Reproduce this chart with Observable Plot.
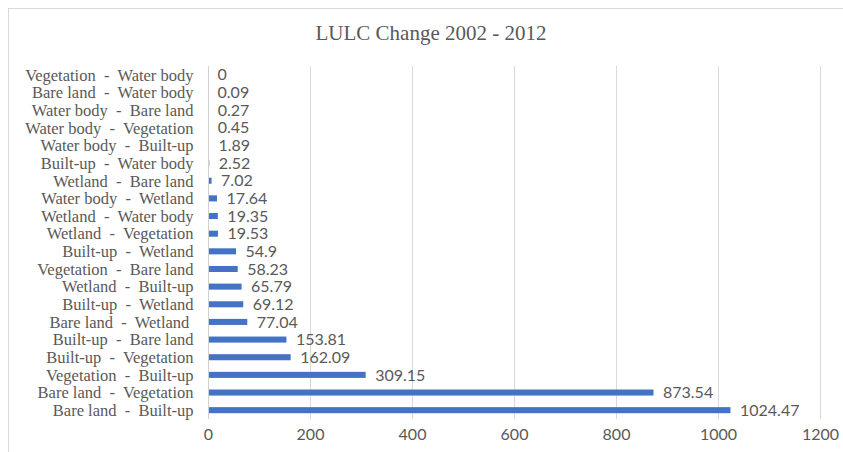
<!DOCTYPE html>
<html>
<head>
<meta charset="utf-8">
<script src="https://cdn.jsdelivr.net/npm/d3@7"></script>
<script src="https://cdn.jsdelivr.net/npm/@observablehq/plot@0.6"></script>
<style>
  html, body { margin: 0; padding: 0; background: #fff; }
  #wrap { position: relative; width: 843px; height: 452px; overflow: hidden; }
  #frame { position: absolute; left: 8px; top: 8px; width: 900px; height: 500px; border-left: 1px solid #d9d9d9; border-top: 1px solid #d9d9d9; box-sizing: border-box; }
  #title { position: absolute; top: 21px; left: 231px; width: 400px; text-align: center; font-family: "Liberation Serif", "Times New Roman", serif; font-size: 21px; color: #595959; }
  #chart { position: absolute; left: 0; top: 0; }
  #chart svg text { white-space: pre; }
</style>
</head>
<body>
<div id="wrap">
  <div id="frame"></div>
  <div id="title">LULC Change 2002 - 2012</div>
  <div id="chart"></div>
</div>
<script>
const categories = [
  "Vegetation  -  Water body",
  "Bare land  -  Water body",
  "Water body  -  Bare land",
  "Water body  -  Vegetation",
  "Water body  -  Built-up",
  "Built-up  -  Water body",
  "Wetland  -  Bare land",
  "Water body  -  Wetland",
  "Wetland  -  Water body",
  "Wetland  -  Vegetation",
  "Built-up  -  Wetland",
  "Vegetation  -  Bare land",
  "Wetland  -  Built-up",
  "Built-up  -  Wetland",
  "Bare land  -  Wetland ",
  "Built-up  -  Bare land",
  "Built-up  -  Vegetation",
  "Vegetation  -  Built-up",
  "Bare land  -  Vegetation",
  "Bare land  -  Built-up"
];
const values = [0, 0.09, 0.27, 0.45, 1.89, 2.52, 7.02, 17.64, 19.35, 19.53, 54.9, 58.23, 65.79, 69.12, 77.04, 153.81, 162.09, 309.15, 873.54, 1024.47];
const xTicks = [0, 200, 400, 600, 800, 1000, 1200];

const rows = categories.map((c, i) => ({i, label: c, value: values[i]}));

const sans = "Lato, 'Open Sans', sans-serif";
const serif = "'Liberation Serif', 'Times New Roman', serif";

const chart = Plot.plot({
  width: 843,
  height: 452,
  marginLeft: 208,
  marginRight: 23,
  marginTop: 66,
  marginBottom: 33,
  style: {background: "transparent", color: "#595959"},
  x: {domain: [0, 1200], ticks: xTicks, label: null},
  y: {domain: d3.range(categories.length), padding: 0, round: false, label: null},
  marks: [
    Plot.gridX(xTicks, {stroke: "#d9d9d9", strokeOpacity: 1, strokeWidth: 1}),
    Plot.axisX({ticks: xTicks, tickFormat: d => String(d), tickSize: 0, tickPadding: 9, fontFamily: sans, fontSize: 16, fill: "#595959"}),
    Plot.axisY({tickFormat: i => categories[i], tickSize: 0, tickPadding: 15, fontFamily: serif, fontSize: 16.5, fill: "#595959"}),
    Plot.barX(rows, {x: "value", y: "i", fill: "#4472C4", insetTop: 5.8, insetBottom: 5.8}),
    Plot.ruleX([0], {stroke: "#d0d0d0"}),
    Plot.text(rows, {x: "value", y: "i", text: d => String(d.value), textAnchor: "start", dx: 9, fontFamily: sans, fontSize: 16, fill: "#595959"})
  ]
});
document.getElementById("chart").appendChild(chart);
</script>
</body>
</html>
